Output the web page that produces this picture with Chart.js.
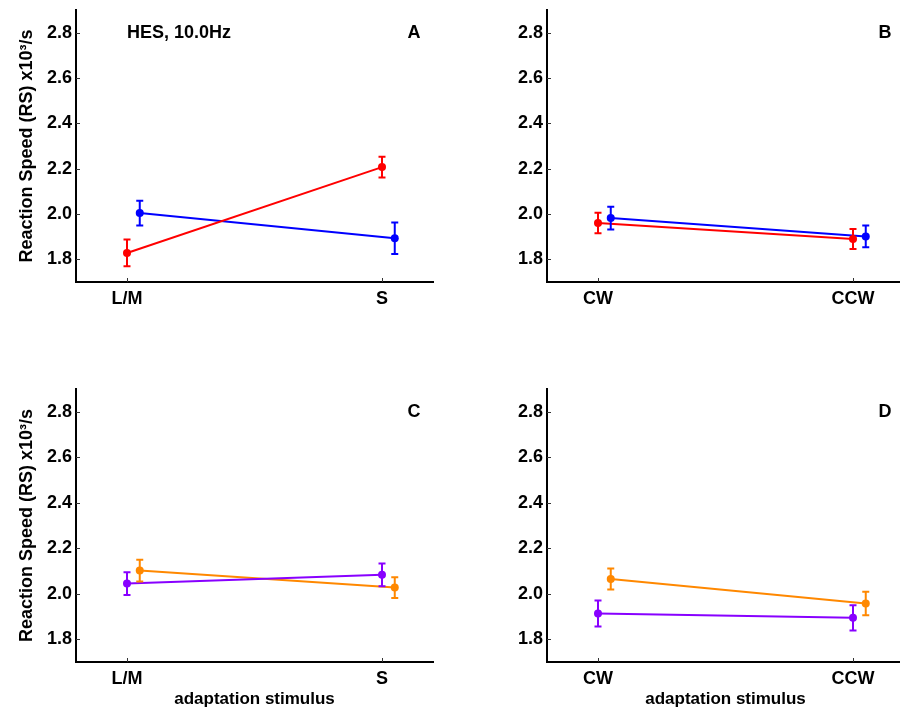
<!DOCTYPE html>
<html>
<head>
<meta charset="utf-8">
<script src="https://cdn.jsdelivr.net/npm/chart.js@4.4.1/dist/chart.umd.min.js"></script>
<style>
  html, body { margin: 0; padding: 0; background: #fff; overflow: hidden; }
  body { width: 900px; height: 711px; position: relative; }
  .panel { position: absolute; }
</style>
</head>
<body>
<div class="panel" style="left:0;top:0;width:450px;height:330px"><canvas id="cA"></canvas></div>
<div class="panel" style="left:450px;top:0;width:460px;height:330px"><canvas id="cB"></canvas></div>
<div class="panel" style="left:0;top:379px;width:450px;height:331px"><canvas id="cC"></canvas></div>
<div class="panel" style="left:450px;top:379px;width:460px;height:331px"><canvas id="cD"></canvas></div>
<script>
// categories
const colourCats = ["L/M", "S"];
const orientCats = ["CW", "CCW"];
const yTicks = [1.8, 2.0, 2.2, 2.4, 2.6, 2.8];

// panel A (colour adaptation)
const aRed = [1.828, 2.207];
const aRedErr = [0.059, 0.046];
const aBlue = [2.004, 1.893];
const aBlueErr = [0.055, 0.070];

// panel B (orientation adaptation)
const bRed = [1.960, 1.890];
const bRedErr = [0.045, 0.044];
const bBlue = [1.982, 1.901];
const bBlueErr = [0.050, 0.048];

// panel C
const cPurple = [2.045, 2.083];
const cPurpleErr = [0.050, 0.050];
const cOrange = [2.102, 2.027];
const cOrangeErr = [0.048, 0.046];

// panel D
const dPurple = [1.913, 1.894];
const dPurpleErr = [0.057, 0.055];
const dOrange = [2.065, 1.957];
const dOrangeErr = [0.046, 0.052];

const RED = "#ff0000", BLUE = "#0000ff", PURPLE = "#8800ff", ORANGE = "#ff8800";
const FONT = "'Liberation Sans', Arial, sans-serif";

function series(vals, errs, shift, colour) {
  return {
    data: vals.map((v, i) => ({ x: i + shift, y: v, err: errs[i] })),
    borderColor: colour,
    backgroundColor: colour,
    borderWidth: 2,
    pointRadius: 4,
    pointBorderWidth: 0,
    pointBackgroundColor: colour,
    showLine: true,
    tension: 0
  };
}

// error bars + inward tick marks + panel text
const extras = {
  id: "extras",
  afterDatasetsDraw(chart) {
    const ctx = chart.ctx;
    const y = chart.scales.y, x = chart.scales.x;
    ctx.save();
    chart.data.datasets.forEach((ds, di) => {
      const meta = chart.getDatasetMeta(di);
      ctx.strokeStyle = ds.borderColor;
      ctx.lineWidth = 2;
      ds.data.forEach((p, i) => {
        const px = meta.data[i].x;
        const top = y.getPixelForValue(p.y + p.err);
        const bot = y.getPixelForValue(p.y - p.err);
        ctx.beginPath();
        ctx.moveTo(px, top); ctx.lineTo(px, bot);
        ctx.moveTo(px - 3.5, top); ctx.lineTo(px + 3.5, top);
        ctx.moveTo(px - 3.5, bot); ctx.lineTo(px + 3.5, bot);
        ctx.stroke();
      });
    });
    // ticks pointing inward
    const ca = chart.chartArea;
    ctx.strokeStyle = "#333";
    ctx.lineWidth = 1;
    ctx.beginPath();
    yTicks.forEach(t => {
      const py = Math.round(y.getPixelForValue(t)) + 0.5;
      ctx.moveTo(ca.left, py); ctx.lineTo(ca.left + 4, py);
    });
    [0, 1].forEach(t => {
      const px = Math.round(x.getPixelForValue(t)) + 0.5;
      ctx.moveTo(px, ca.bottom); ctx.lineTo(px, ca.bottom - 4);
    });
    ctx.stroke();
    // panel letter and note
    const o = chart.options.plugins.extras;
    ctx.fillStyle = "#000";
    ctx.font = "bold 18px " + FONT;
    ctx.textBaseline = "middle";
    ctx.textAlign = "center";
    ctx.fillText(o.letter, x.getPixelForValue(1.125), ca.top + 23);
    if (o.note) {
      ctx.textAlign = "left";
      ctx.fillText(o.note, x.getPixelForValue(0.0), ca.top + 23);
    }
    ctx.restore();
  }
};

function makePanel(id, cats, datasets, opt) {
  return new Chart(document.getElementById(id), {
    type: "scatter",
    data: { datasets },
    plugins: [extras],
    options: {
      responsive: true,
      maintainAspectRatio: false,
      animation: false,
      layout: { padding: { top: 10, right: opt.padRight, left: 0, bottom: 0 } },
      plugins: {
        legend: { display: false },
        tooltip: { enabled: false },
        extras: { letter: opt.letter, note: opt.note }
      },
      scales: {
        x: {
          type: "linear",
          min: -0.2,
          max: 1.2,
          afterBuildTicks: s => { s.ticks = cats.map((c, i) => ({ value: i })); },
          afterFit: s => { s.height = 48; s.paddingLeft = 0; s.paddingRight = 0; },
          grid: { display: false, drawTicks: false },
          border: { display: true, color: "#000", width: 2 },
          ticks: {
            padding: 6,
            color: "#000",
            font: { family: FONT, size: 18, weight: "bold" },
            callback: v => cats[v]
          },
          title: {
            display: !!opt.xTitle,
            text: opt.xTitle || "",
            color: "#000",
            font: { family: FONT, size: 17, weight: "bold" },
            padding: { top: 0, bottom: 0 }
          }
        },
        y: {
          min: 1.7,
          max: 2.9,
          afterBuildTicks: s => { s.ticks = yTicks.map(v => ({ value: v })); },
          afterFit: s => { s.width = opt.yWidth; s.paddingTop = 0; s.paddingBottom = 0; },
          grid: { display: false, drawTicks: false },
          border: { display: true, color: "#000", width: 2 },
          ticks: {
            padding: 4,
            color: "#000",
            font: { family: FONT, size: 18, weight: "bold" },
            callback: v => Number(v).toFixed(1)
          },
          title: {
            display: !!opt.yTitle,
            text: opt.yTitle || "",
            color: "#000",
            font: { family: FONT, size: 18, weight: "bold" },
            padding: { top: 16, bottom: 0 }
          }
        }
      }
    }
  });
}

const yLabel = "Reaction Speed (RS) x10\u00B3/s";

makePanel("cA", colourCats, [
  series(aRed, aRedErr, 0, RED),
  series(aBlue, aBlueErr, 0.05, BLUE)
], { letter: "A", note: "HES, 10.0Hz", yTitle: yLabel, yWidth: 76, padRight: 17 });

makePanel("cB", orientCats, [
  series(bRed, bRedErr, 0, RED),
  series(bBlue, bBlueErr, 0.05, BLUE)
], { letter: "B", yWidth: 97, padRight: 6 });

makePanel("cC", colourCats, [
  series(cPurple, cPurpleErr, 0, PURPLE),
  series(cOrange, cOrangeErr, 0.05, ORANGE)
], { letter: "C", yTitle: yLabel, xTitle: "adaptation stimulus", yWidth: 76, padRight: 17 });

makePanel("cD", orientCats, [
  series(dPurple, dPurpleErr, 0, PURPLE),
  series(dOrange, dOrangeErr, 0.05, ORANGE)
], { letter: "D", xTitle: "adaptation stimulus", yWidth: 97, padRight: 6 });
</script>
</body>
</html>
